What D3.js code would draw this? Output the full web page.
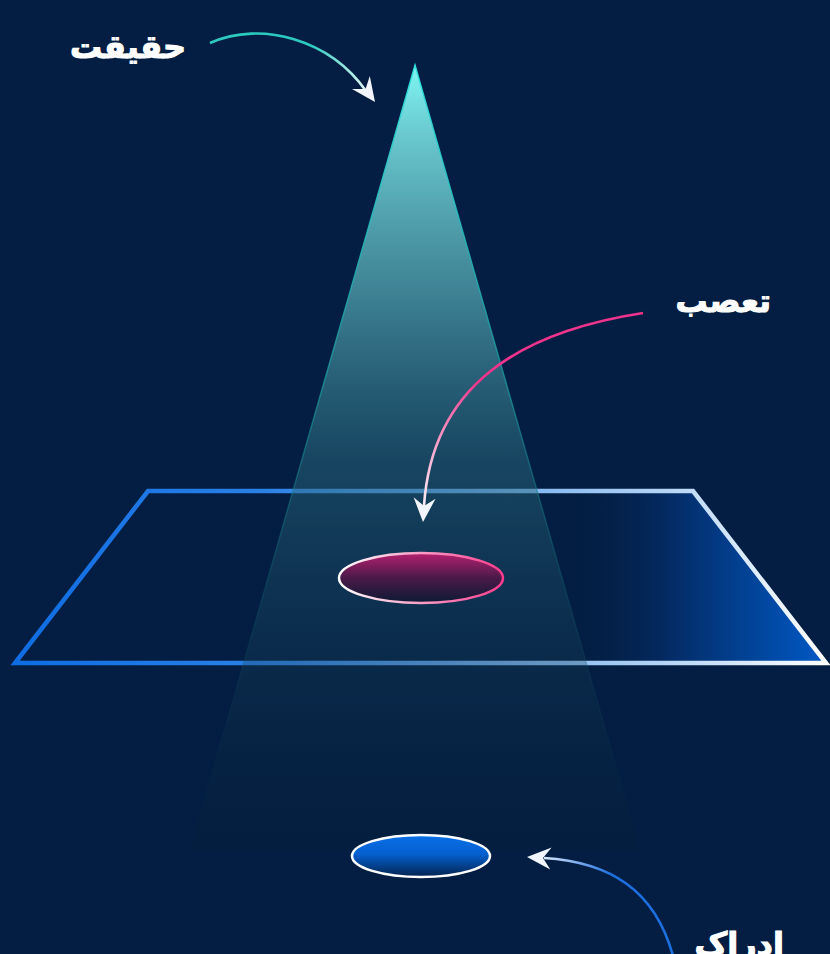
<!DOCTYPE html>
<meta charset="utf-8">
<head>
    <title>Reality / Bias / Perception</title>
    <style>
        body { margin: 0; background: #031e42; }
        svg { display: block; }
        .label { font-family: "DejaVu Sans", sans-serif; font-weight: bold; fill: #ffffff;
                 stroke: #ffffff; stroke-width: 1.1px; }
    </style>
</head>
<body>
    <script src="https://cdn.jsdelivr.net/npm/d3@7"></script>
    <script>
        // labels (Persian): reality, bias, perception
        var labels = ["حقیقت", "تعصب", "ادراک"];
        var labelColors = ["#2cc9bf", "#f0338c", "#1d6fe0"];

        var width = 830, height = 954;

        var svg = d3.select("body").append("svg")
            .attr("width", width)
            .attr("height", height);

        var defs = svg.append("defs");

        function linGrad(id, x1, y1, x2, y2, stops) {
            var g = defs.append("linearGradient").attr("id", id)
                .attr("x1", x1).attr("y1", y1).attr("x2", x2).attr("y2", y2);
            stops.forEach(function (s) {
                g.append("stop").attr("offset", s[0]).attr("stop-color", s[1])
                    .attr("stop-opacity", s[2] == null ? 1 : s[2]);
            });
            return "url(#" + id + ")";
        }

        svg.append("rect").attr("width", width).attr("height", height).attr("fill", "#031e42");

        // plane (parallelogram)
        var plane = [[148, 491], [693, 491], [826, 663], [15, 663]];
        var planeFill = linGrad("planeFill", "0%", "0%", "100%", "0%", [
            [0, "#031e42", 0], [0.68, "#031e42", 0], [0.8, "#042a62", 1], [1, "#0059c6", 1]]);
        var planeStroke = linGrad("planeStroke", "0%", "0%", "100%", "0%", [
            [0, "#0f6de2"], [0.3, "#2a80e6"], [0.55, "#6aa8ec"], [0.8, "#b4d4f6"], [1, "#ffffff"]]);
        svg.append("path")
            .attr("d", d3.line()(plane) + "Z")
            .attr("fill", planeFill)
            .attr("stroke", planeStroke)
            .attr("stroke-width", 4.5)
            .attr("stroke-linejoin", "miter");

        // light cone
        var apex = [415, 65], baseY = 850, baseL = 190, baseR = 640;
        var coneFill = linGrad("coneFill", "0%", "0%", "0%", "100%", [
            [0, "#7ff6f4", 1], [0.1, "#72d6da", 0.9], [0.3, "#4f9fac", 0.75],
            [0.5, "#2d6f82", 0.5], [0.72, "#1b4a62", 0.35], [1, "#0a1c34", 0.15]]);
        var coneStroke = linGrad("coneStroke", "0%", "0%", "0%", "100%", [
            [0, "#2fe0dc", 1], [0.4, "#1a9a9e", 0.8], [0.7, "#0f5a6a", 0.3], [1, "#0a2a44", 0]]);
        svg.append("path")
            .attr("d", d3.line()([apex, [baseR, baseY], [baseL, baseY]]) + "Z")
            .attr("fill", coneFill)
            .attr("stroke", coneStroke)
            .attr("stroke-width", 1.4);

        // bias ellipse
        var pinkFill = linGrad("pinkFill", "0%", "0%", "0%", "100%", [
            [0, "#b5206f"], [0.5, "#4a1a48"], [1, "#0c1a34"]]);
        var pinkStroke = linGrad("pinkStroke", "0%", "0%", "100%", "0%", [
            [0, "#ffffff"], [0.45, "#f7a8cc"], [1, "#ff3a8c"]]);
        svg.append("ellipse")
            .attr("cx", 421).attr("cy", 578).attr("rx", 82).attr("ry", 25)
            .attr("fill", pinkFill).attr("stroke", pinkStroke).attr("stroke-width", 2.5);

        // perception ellipse
        var blueFill = linGrad("blueFill", "0%", "0%", "0%", "100%", [
            [0, "#0a6fe6"], [0.45, "#0560d0"], [1, "#03234e"]]);
        svg.append("ellipse")
            .attr("cx", 421).attr("cy", 856).attr("rx", 69).attr("ry", 21)
            .attr("fill", blueFill).attr("stroke", "#ffffff").attr("stroke-width", 2.5);

        // arrows: curve + chevron head
        var arrows = [
            { p: [[210, 43], [262, 20], [330, 40], [366, 91]], tip: [375, 102] },
            { p: [[643, 313], [520, 332], [432, 385], [424, 506]], tip: [423, 522] },
            { p: [[673, 956], [655, 890], [610, 862], [544, 858]], tip: [527, 857] }
        ];

        arrows.forEach(function (a, i) {
            var p = a.p;
            var grad = linGrad("arrowGrad" + i, p[0][0], p[0][1], a.tip[0], a.tip[1], [
                [0, labelColors[i]], [0.55, labelColors[i]], [1, "#ffffff"]]);
            defs.select("#arrowGrad" + i).attr("gradientUnits", "userSpaceOnUse");
            var path = d3.path();
            path.moveTo(p[0][0], p[0][1]);
            path.bezierCurveTo(p[1][0], p[1][1], p[2][0], p[2][1], p[3][0], p[3][1]);
            svg.append("path")
                .attr("d", path.toString())
                .attr("fill", "none")
                .attr("stroke", grad)
                .attr("stroke-width", 2.6);

            // arrow head
            var ang = Math.atan2(a.tip[1] - p[2][1], a.tip[0] - p[2][0]);
            var L = 24, W = 11, N = 16;
            var head = [[0, 0], [-L, -W], [-N, 0], [-L, W]].map(function (q) {
                return [a.tip[0] + q[0] * Math.cos(ang) - q[1] * Math.sin(ang),
                        a.tip[1] + q[0] * Math.sin(ang) + q[1] * Math.cos(ang)];
            });
            svg.append("path")
                .attr("d", d3.line()(head) + "Z")
                .attr("fill", "#f2f6fc");
        });

        // labels
        var labelPos = [[186, 58], [771, 312], [784, 955]];
        svg.selectAll("text.label")
            .data(labels)
            .enter().append("text")
            .attr("class", "label")
            .attr("direction", "rtl")
            .attr("text-anchor", "start")
            .attr("x", function (d, i) { return labelPos[i][0]; })
            .attr("y", function (d, i) { return labelPos[i][1]; })
            .style("font-size", "32px")
            .text(function (d) { return d; });
    </script>
</body>
</html>
